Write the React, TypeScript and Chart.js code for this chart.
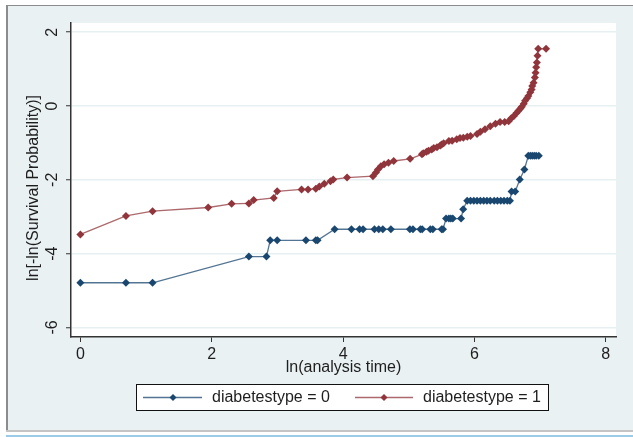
import React, { useEffect, useRef } from "react";
import { Chart, registerables } from "chart.js";

Chart.register(...registerables);

// ln(analysis time) and ln[-ln(S)] for diabetestype = 0
const blueX = [0, 0.693, 1.099, 2.565, 2.833, 2.89, 2.996, 3.434, 3.584, 3.611, 3.871, 4.127, 4.25, 4.304, 4.477, 4.543, 4.605, 4.727, 5.017, 5.063, 5.176, 5.204, 5.328, 5.366, 5.5, 5.521, 5.568, 5.61, 5.64, 5.67, 5.796, 5.828, 5.889, 5.94, 5.99, 6.04, 6.09, 6.14, 6.19, 6.24, 6.3, 6.35, 6.4, 6.45, 6.5, 6.54, 6.565, 6.62, 6.69, 6.76, 6.82, 6.85, 6.88, 6.91, 6.94, 6.98];
const blueY = [-4.79, -4.79, -4.79, -4.08, -4.08, -3.64, -3.64, -3.64, -3.64, -3.64, -3.34, -3.34, -3.34, -3.34, -3.34, -3.34, -3.34, -3.34, -3.34, -3.34, -3.34, -3.34, -3.34, -3.34, -3.34, -3.34, -3.05, -3.05, -3.05, -3.05, -3.05, -2.8, -2.57, -2.57, -2.57, -2.57, -2.57, -2.57, -2.57, -2.57, -2.57, -2.57, -2.57, -2.57, -2.57, -2.57, -2.32, -2.32, -1.99, -1.72, -1.35, -1.35, -1.35, -1.35, -1.35, -1.35];

// diabetestype = 1
const redX = [0, 0.693, 1.099, 1.946, 2.303, 2.565, 2.639, 2.944, 2.996, 3.367, 3.466, 3.584, 3.638, 3.714, 3.807, 3.85, 4.06, 4.454, 4.5, 4.53, 4.575, 4.625, 4.69, 4.77, 5.02, 5.2, 5.22, 5.27, 5.3, 5.35, 5.38, 5.43, 5.48, 5.5, 5.53, 5.61, 5.66, 5.73, 5.78, 5.83, 5.89, 5.94, 6.04, 6.09, 6.16, 6.24, 6.32, 6.39, 6.46, 6.52, 6.56, 6.6, 6.64, 6.67, 6.7, 6.72, 6.75, 6.77, 6.8, 6.82, 6.85, 6.87, 6.88, 6.9, 6.92, 6.93, 6.94, 6.95, 6.96, 6.97, 7.09];
const redY = [-3.48, -2.98, -2.85, -2.75, -2.65, -2.64, -2.55, -2.49, -2.31, -2.26, -2.26, -2.24, -2.18, -2.11, -2.04, -1.99, -1.94, -1.9, -1.8, -1.72, -1.63, -1.58, -1.54, -1.49, -1.43, -1.31, -1.28, -1.24, -1.21, -1.18, -1.14, -1.12, -1.07, -1.04, -1.01, -0.95, -0.94, -0.9, -0.87, -0.86, -0.83, -0.81, -0.76, -0.7, -0.63, -0.55, -0.48, -0.43, -0.43, -0.41, -0.33, -0.27, -0.19, -0.13, -0.07, -0.02, 0.06, 0.14, 0.21, 0.27, 0.37, 0.45, 0.54, 0.63, 0.77, 0.9, 1.05, 1.18, 1.36, 1.55, 1.55];

const xTicks = [0, 2, 4, 6, 8];
const yTicks = [-6, -4, -2, 0, 2];
const seriesLabels = ["diabetestype = 0", "diabetestype = 1"];
const xTitle = "ln(analysis time)";
const yTitle = "ln[-ln(Survival Probability)]";

const BLUE = "#1a476f";
const RED = "#90353b";
const BLUE_LINE = "rgba(26,71,111,0.75)";
const RED_LINE = "rgba(144,53,59,0.75)";
const BG = "#e9f1f3";
const FONT = "16px 'Liberation Sans', Arial, sans-serif";

function drawDiamond(ctx: CanvasRenderingContext2D, x: number, y: number, r: number, color: string) {
  ctx.beginPath();
  ctx.moveTo(x, y - r);
  ctx.lineTo(x + r, y);
  ctx.lineTo(x, y + r);
  ctx.lineTo(x - r, y);
  ctx.closePath();
  ctx.fillStyle = color;
  ctx.fill();
}

const decorPlugin = {
  id: "decor",
  beforeDraw(chart: any) {
    const ctx = chart.ctx as CanvasRenderingContext2D;
    const { width, height, chartArea } = chart;
    ctx.save();
    ctx.fillStyle = "#ffffff";
    ctx.fillRect(0, 0, width, height);
    ctx.fillStyle = BG;
    ctx.fillRect(7, 5, width - 7, 426);
    // frame
    ctx.fillStyle = "#8c8c8c";
    ctx.fillRect(6, 5, width - 6, 1);
    ctx.fillRect(6, 5, 2, 427);
    ctx.fillStyle = "#c4c4c4";
    ctx.fillRect(6, 430, width - 6, 2);
    ctx.fillStyle = "#9ccbe8";
    ctx.fillRect(6, 435, width - 6, 2);
    // plot region
    ctx.fillStyle = "#ffffff";
    ctx.fillRect(chartArea.left, chartArea.top, chartArea.right - chartArea.left, chartArea.bottom - chartArea.top);
    ctx.restore();
  },
  afterDraw(chart: any) {
    const ctx = chart.ctx as CanvasRenderingContext2D;
    const xs = chart.scales.x;
    const ys = chart.scales.y;
    ctx.save();
    ctx.fillStyle = "#1e1e1e";
    ctx.font = FONT;
    ctx.textAlign = "center";
    ctx.textBaseline = "middle";
    // x tick labels
    xTicks.forEach((v) => {
      ctx.fillText(String(v), xs.getPixelForValue(v), 355);
    });
    // x title
    ctx.fillText(xTitle, (chart.chartArea.left + chart.chartArea.right) / 2, 368);
    // y tick labels (rotated)
    yTicks.forEach((v) => {
      ctx.save();
      ctx.translate(53, ys.getPixelForValue(v));
      ctx.rotate(-Math.PI / 2);
      ctx.fillText(String(v), 0, 0);
      ctx.restore();
    });
    // y title
    ctx.save();
    ctx.translate(34, 188);
    ctx.rotate(-Math.PI / 2);
    ctx.fillText(yTitle, 0, 0);
    ctx.restore();
    // legend
    const lx = 136.5, ly = 384.5, lw = 412, lh = 26;
    ctx.fillStyle = "#ffffff";
    ctx.fillRect(lx, ly, lw, lh);
    ctx.strokeStyle = "#111111";
    ctx.lineWidth = 1;
    ctx.strokeRect(lx, ly, lw, lh);
    const my = ly + lh / 2;
    const items = [
      { x0: 143, x1: 202, m: 173, tx: 212, line: BLUE_LINE, mark: BLUE, label: seriesLabels[0] },
      { x0: 355, x1: 413, m: 384, tx: 423, line: RED_LINE, mark: RED, label: seriesLabels[1] },
    ];
    items.forEach((it) => {
      ctx.strokeStyle = it.line;
      ctx.lineWidth = 1.5;
      ctx.beginPath();
      ctx.moveTo(it.x0, my);
      ctx.lineTo(it.x1, my);
      ctx.stroke();
      drawDiamond(ctx, it.m, my, 3.5, it.mark);
      ctx.fillStyle = "#1e1e1e";
      ctx.textAlign = "left";
      ctx.fillText(it.label, it.tx, my);
    });
    ctx.restore();
  },
};

export default function App() {
  const ref = useRef<HTMLCanvasElement | null>(null);
  useEffect(() => {
    if (!ref.current) return;
    const chart = new Chart(ref.current, {
      type: "line",
      data: {
        datasets: [
          {
            label: seriesLabels[0],
            data: blueX.map((x, i) => ({ x, y: blueY[i] })),
            borderColor: BLUE_LINE,
            backgroundColor: BLUE,
            pointBackgroundColor: BLUE,
            pointBorderColor: BLUE,
            pointBorderWidth: 0,
            pointStyle: "rectRot",
            pointRadius: 4,
            borderWidth: 1.3,
            tension: 0,
          },
          {
            label: seriesLabels[1],
            data: redX.map((x, i) => ({ x, y: redY[i] })),
            borderColor: RED_LINE,
            backgroundColor: RED,
            pointBackgroundColor: RED,
            pointBorderColor: RED,
            pointBorderWidth: 0,
            pointStyle: "rectRot",
            pointRadius: 4,
            borderWidth: 1.3,
            tension: 0,
          },
        ],
      },
      options: {
        responsive: false,
        animation: false,
        events: [],
        layout: { padding: { left: 0, top: 23, right: 17, bottom: 0 } },
        plugins: { legend: { display: false }, tooltip: { enabled: false } },
        scales: {
          x: {
            type: "linear",
            min: -0.143,
            max: 8.155,
            afterBuildTicks: (s: any) => {
              s.ticks = xTicks.map((v) => ({ value: v }));
            },
            afterFit: (s: any) => {
              s.height = 100;
            },
            ticks: { display: false },
            grid: { drawOnChartArea: false, drawTicks: true, tickLength: 5, tickColor: "#333333", tickWidth: 1 },
            border: { color: "#333333", width: 1.5 },
          },
          y: {
            type: "linear",
            min: -6.26,
            max: 2.25,
            afterBuildTicks: (s: any) => {
              s.ticks = yTicks.map((v) => ({ value: v }));
            },
            afterFit: (s: any) => {
              s.width = 71;
            },
            ticks: { display: false },
            grid: { color: "#e6eff2", lineWidth: 1.5, drawTicks: true, tickLength: 5, tickColor: "#333333", tickWidth: 1 },
            border: { color: "#333333", width: 1.5 },
          },
        },
      },
      plugins: [decorPlugin],
    } as any);
    return () => chart.destroy();
  }, []);
  return (
    <div style={{ position: "fixed", left: 0, top: 0 }}>
      <canvas ref={ref} width={633} height={437} style={{ width: 633, height: 437, display: "block" }} />
    </div>
  );
}
